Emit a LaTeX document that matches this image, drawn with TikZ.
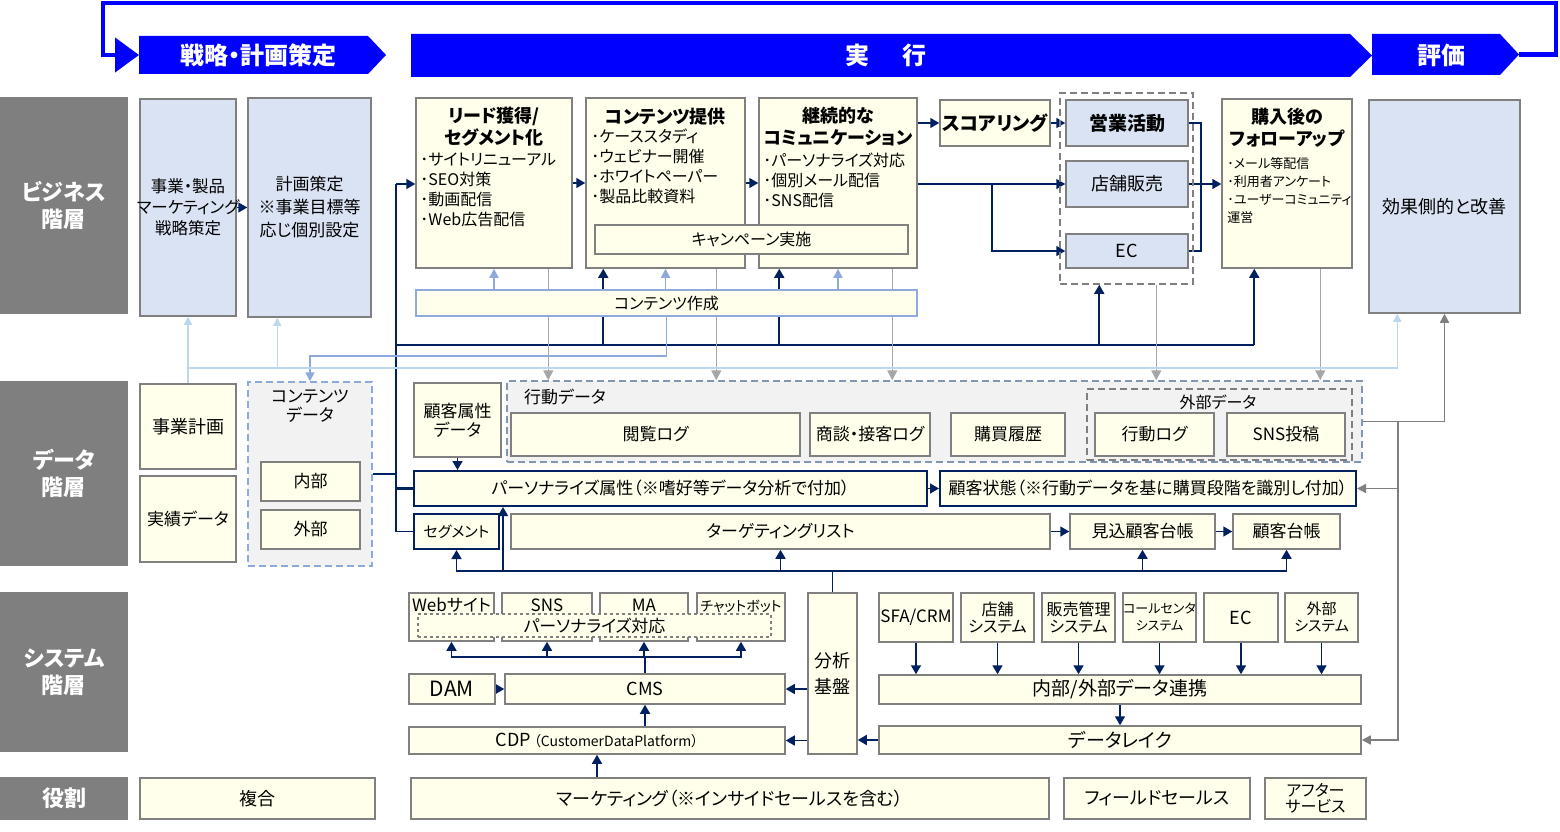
\documentclass[tikz,border=0pt]{standalone}
\usepackage{fontspec}
\setmainfont{Noto Sans CJK JP}[RawFeature=+palt]
\usetikzlibrary{arrows.meta,calc}
\pgfdeclarelayer{bg}
\pgfsetlayers{bg,main}

\definecolor{navy}{HTML}{002060}
\definecolor{bannerblue}{HTML}{0000FF}
\definecolor{laygray}{HTML}{7F7F7F}
\definecolor{boxgray}{HTML}{808080}
\definecolor{boxyellow}{HTML}{FFFFEB}
\definecolor{boxblue}{HTML}{DAE3F3}
\definecolor{grpfill}{HTML}{F2F2F2}
\definecolor{midblue}{HTML}{8EA9DB}
\definecolor{lineblue}{HTML}{BDD7EE}
\definecolor{bhvblue}{HTML}{8497B0}
\definecolor{arrgray}{HTML}{A6A6A6}
\definecolor{dkgray}{HTML}{7F7F7F}

\tikzset{
  basebox/.style={draw=boxgray, line width=1.5pt, inner sep=0pt, align=center, font=\fontsize{17}{20}\selectfont},
  ybox/.style={basebox, fill=boxyellow},
  bbox/.style={basebox, fill=boxblue},
  nbox/.style={ybox, draw=navy, line width=2pt},
  toptxt/.style={text height=12pt, text depth=24pt},
  layer/.style={fill=laygray, inner sep=0pt, align=center, text=white, font=\bfseries\fontsize{22}{27}\selectfont},
  grp/.style={dash pattern=on 7pt off 4pt, fill=grpfill, line width=1.5pt, inner sep=0pt},
  hd/.style={inner sep=0pt, align=center, font=\bfseries\fontsize{18}{22}\selectfont},
  ls/.style={inner sep=0pt, align=left, font=\fontsize{16}{20}\selectfont},
  bantxt/.style={text=white, font=\bfseries\fontsize{24}{28}\selectfont, inner sep=0pt},
  nav/.style={draw=navy, line width=1.6pt},
  navar/.style={nav, -{Triangle[width=10pt,length=9pt]}},
  navbus/.style={draw=navy, line width=2.8pt},
  grar/.style={draw=arrgray, line width=1.5pt, -{Triangle[width=10pt,length=10pt]}},
  dgar/.style={draw=dkgray, line width=1.5pt, -{Triangle[width=9pt,length=9pt]}},
  lbar/.style={draw=lineblue, line width=1.5pt, -{Triangle[width=8pt,length=8pt]}},
  mbar/.style={draw=midblue, line width=1.5pt, -{Triangle[width=9pt,length=9pt]}},
}

\begin{document}
\begin{tikzpicture}[x=1pt,y=-1pt]
\useasboundingbox (0,0) rectangle (1560,832);

% phases
\fill[bannerblue] (139,36) -- (368,36) -- (386,55) -- (368,74) -- (139,74) -- cycle;
\node[bantxt] (pstrat) at (258,55) {戦略・計画策定};
\fill[bannerblue] (411,34) -- (1350,34) -- (1372,55.5) -- (1350,77) -- (411,77) -- cycle;
\node[bantxt] (pexec) at (886,55) {実\hspace{1.4em}行};
\fill[bannerblue] (1372,34) -- (1500,34) -- (1519,54.5) -- (1500,75) -- (1372,75) -- cycle;
\node[bantxt] (peval) at (1441,55) {評価};
\coordinate (evaltip) at (1519,54.5);
\coordinate (stratin) at (139,55);
\draw[draw=bannerblue, line width=4.5pt, -{Triangle[width=34pt,length=24pt]}] (evaltip) -| (1556,3) -| (103,55) -- (stratin);

% layers
\node[layer, minimum width=128pt, minimum height=217pt] (lbiz) at (64,205.5) {ビジネス\\階層};
\node[layer, minimum width=128pt, minimum height=185pt] (ldata) at (64,473.5) {データ\\階層};
\node[layer, minimum width=128pt, minimum height=160pt] (lsys) at (64,672) {システム\\階層};
\node[layer, minimum width=128pt, minimum height=43pt] (lrole) at (64,798.5) {役割};

% business layer
\node[bbox, minimum width=96pt, minimum height=217pt] (bstrat) at (188,207.5) {};
\node[inner sep=0pt, align=center, font=\fontsize{16.5}{21}\selectfont] (bstrattxt) at (bstrat.center) {事業・製品\\マーケティング\\戦略策定};
\node[bbox, minimum width=123pt, minimum height=219pt, font=\fontsize{17}{23}\selectfont] (bplan) at (309.5,207.5) {計画策定\\※事業目標等\\応じ個別設定};

\node[ybox, minimum width=156pt, minimum height=170pt] (lead) at (494,183) {};
\node[hd, anchor=north] (leadhd) at ($(lead.north)+(0,10)$) {リード獲得/\\セグメント化};
\node[ls, anchor=north west] (leadls) at ($(lead.north west)+(5,56)$) {･サイトリニューアル\\･SEO対策\\･動画配信\\･Web広告配信};

\node[ybox, minimum width=159pt, minimum height=170pt] (cprov) at (665.5,183) {};
\node[hd, anchor=north] (cprovhd) at ($(cprov.north)+(0,11)$) {コンテンツ提供};
\node[ls, anchor=north west] (cprovls) at ($(cprov.north west)+(6,31)$) {･ケーススタディ\\･ウェビナー開催\\･ホワイトペーパー\\･製品比較資料};

\node[ybox, minimum width=158pt, minimum height=170pt] (ccomm) at (838,183) {};
\node[hd, anchor=north] (ccommhd) at ($(ccomm.north)+(0,10)$) {継続的な\\コミュニケーション};
\node[ls, anchor=north west] (ccommls) at ($(ccomm.north west)+(5,55)$) {･パーソナライズ対応\\･個別メール配信\\･SNS配信};

\node[ybox, minimum width=313pt, minimum height=29pt, font=\fontsize{16}{18}\selectfont] (campaign) at (751.5,239.5) {キャンペーン実施};

\node[ybox, minimum width=110pt, minimum height=46pt, font=\bfseries\fontsize{19}{22}\selectfont] (scoring) at (995,123) {スコアリング};
\node[grp, draw=dkgray, fill=none, minimum width=133pt, minimum height=191pt] (salesgrp) at (1126.5,188.5) {};
\node[bbox, minimum width=122pt, minimum height=46pt, font=\bfseries\fontsize{19}{22}\selectfont] (sales) at (1127,123) {営業活動};
\node[bbox, minimum width=122pt, minimum height=46pt, font=\fontsize{18}{20}\selectfont] (store) at (1127,184) {店舗販売};
\node[bbox, minimum width=122pt, minimum height=34pt, font=\fontsize{18}{20}\selectfont] (ec) at (1127,251) {EC};

\node[ybox, minimum width=130pt, minimum height=169pt] (follow) at (1287,183.5) {};
\node[hd, anchor=north] (followhd) at ($(follow.north)+(0,10)$) {購入後の\\フォローアップ};
\node[ls, anchor=north west, font=\fontsize{13}{18}\selectfont] (followls) at ($(follow.north west)+(6,59)$) {･メール等配信\\･利用者アンケート\\･ユーザーコミュニティ\\運営};

\node[bbox, minimum width=151pt, minimum height=213pt, font=\fontsize{18}{20}\selectfont] (effect) at (1444.5,206.5) {効果側的と改善};

\node[ybox, draw=midblue, minimum width=501pt, minimum height=26pt, font=\fontsize{16}{18}\selectfont] (ccreate) at (666.5,303) {コンテンツ作成};

% data layer
\node[ybox, minimum width=96pt, minimum height=85pt, font=\fontsize{18}{20}\selectfont] (dplan) at (188,426.5) {事業計画};
\node[ybox, minimum width=96pt, minimum height=86pt] (dperf) at (188,519) {実績データ};
\node[grp, draw=midblue, minimum width=124pt, minimum height=184pt] (cdata) at (310,474) {};
\node[ls, align=center, font=\fontsize{17}{19}\selectfont] (cdatalbl) at (310,406) {コンテンツ\\データ};
\node[ybox, minimum width=99pt, minimum height=39pt] (cin) at (310.5,481.5) {内部};
\node[ybox, minimum width=99pt, minimum height=39pt] (cout) at (310.5,529.5) {外部};
\node[ybox, minimum width=87pt, minimum height=74pt, font=\fontsize{17}{19}\selectfont] (cattr) at (457.5,420) {顧客属性\\データ};
\node[grp, draw=bhvblue, minimum width=855pt, minimum height=81pt] (bhv) at (934.5,421.5) {};
\node[ls, anchor=west, font=\fontsize{17}{20}\selectfont] (bhvlbl) at (524,397) {行動データ};
\node[ybox, minimum width=289pt, minimum height=43pt] (browse) at (655.5,434.5) {閲覧ログ};
\node[ybox, minimum width=120pt, minimum height=43pt] (nego) at (870,434.5) {商談・接客ログ};
\node[ybox, minimum width=114pt, minimum height=43pt] (purch) at (1008,434.5) {購買履歴};
\node[grp, draw=dkgray, minimum width=265pt, minimum height=71pt] (ext) at (1219.5,424.5) {};
\node[ls, font=\fontsize{16}{18}\selectfont] (extlbl) at (1218,402) {外部データ};
\node[ybox, minimum width=119pt, minimum height=43pt] (actlog) at (1154.5,434.5) {行動ログ};
\node[ybox, minimum width=118pt, minimum height=43pt] (snspost) at (1286,434.5) {SNS投稿};
\node[nbox, minimum width=513pt, minimum height=35pt] (pers) at (670.5,488.5) {パーソナライズ属性（※嗜好等データ分析で付加）};
\node[nbox, minimum width=416pt, minimum height=35pt] (cstate) at (1148,488.5) {顧客状態（※行動データを基に購買段階を識別し付加）};
\node[nbox, minimum width=85pt, minimum height=35pt, font=\fontsize{15}{18}\selectfont] (seg) at (456.5,531.5) {セグメント};
\node[ybox, minimum width=539pt, minimum height=35pt] (tlist) at (780.5,531.5) {ターゲティングリスト};
\node[ybox, minimum width=145pt, minimum height=35pt] (prosp) at (1142.5,531.5) {見込顧客台帳};
\node[ybox, minimum width=107pt, minimum height=35pt] (cust) at (1286.5,531.5) {顧客台帳};

% system layer
\node[ybox, toptxt, minimum width=85pt, minimum height=48pt] (web) at (451.5,617) {Webサイト};
\node[ybox, toptxt, minimum width=90pt, minimum height=48pt] (sns) at (547,617) {SNS};
\node[ybox, toptxt, minimum width=88pt, minimum height=48pt] (ma) at (644,617) {MA};
\node[ybox, toptxt, minimum width=88pt, minimum height=48pt, font=\fontsize{14}{17}\selectfont] (chat) at (741,617) {チャットボット};
\node[ybox, dashed, minimum width=353pt, minimum height=23pt] (persup) at (594.5,625.5) {パーソナライズ対応};
\node[ybox, minimum width=86pt, minimum height=30pt, font=\fontsize{21}{24}\selectfont] (dam) at (452,689) {DAM};
\node[ybox, minimum width=280pt, minimum height=30pt, font=\fontsize{18}{20}\selectfont] (cms) at (645,689) {CMS};
\node[ybox, minimum width=376pt, minimum height=27pt, font=\fontsize{18}{20}\selectfont] (cdp) at (597,740.5) {CDP\hspace{3pt}{\fontsize{14}{16}\selectfont（CustomerDataPlatform）}};
\node[ybox, minimum width=49pt, minimum height=161pt, font=\fontsize{18}{26}\selectfont] (analy) at (832.5,673.5) {分析\\基盤};
\node[ybox, minimum width=74pt, minimum height=49pt] (sfa) at (916,617.5) {SFA/CRM};
\node[ybox, minimum width=73pt, minimum height=49pt, font=\fontsize{16}{17}\selectfont] (storesys) at (997.5,617.5) {店舗\\システム};
\node[ybox, minimum width=73pt, minimum height=49pt, font=\fontsize{16}{17}\selectfont] (salesys) at (1078.5,617.5) {販売管理\\システム};
\node[ybox, minimum width=73pt, minimum height=49pt, font=\fontsize{13}{17}\selectfont] (callc) at (1159.5,617.5) {コールセンタ\\システム};
\node[ybox, minimum width=74pt, minimum height=49pt, font=\fontsize{18}{20}\selectfont] (ecsys) at (1241,617.5) {EC};
\node[ybox, minimum width=73pt, minimum height=49pt, font=\fontsize{15}{17}\selectfont] (extsys) at (1321.5,617.5) {外部\\システム};
\node[ybox, minimum width=482pt, minimum height=29pt, font=\fontsize{19}{20}\selectfont] (link) at (1120,689.5) {内部/外部データ連携};
\node[ybox, minimum width=482pt, minimum height=28pt, font=\fontsize{19}{20}\selectfont] (lake) at (1120,740) {データレイク};

% roles
\node[ybox, minimum width=235pt, minimum height=41pt, font=\fontsize{18}{20}\selectfont] (rmix) at (257.5,798.5) {複合};
\node[ybox, minimum width=638pt, minimum height=41pt, font=\fontsize{18}{20}\selectfont] (rmkt) at (730,798.5) {マーケティング（※インサイドセールスを含む）};
\node[ybox, minimum width=186pt, minimum height=41pt, font=\fontsize{18}{20}\selectfont] (rfield) at (1157,798.5) {フィールドセールス};
\node[ybox, minimum width=101pt, minimum height=41pt, font=\fontsize{16}{16}\selectfont] (rafter) at (1315.5,798.5) {アフター\\サービス};

\begin{pgfonlayer}{bg}
% business flow
\draw[navar] (bstrat.east) -- (bstrat.east -| bplan.west);
\draw[navar] (lead.east) -- (cprov.west);
\draw[navar] (cprov.east) -- (ccomm.west);
\draw[navar] (scoring.west -| ccomm.east) -- (scoring.west);
\draw[navar] (scoring.east) -- (sales.west);
\draw[navar] (store.west -| ccomm.east) -- (store.west);
\coordinate (ecfork) at (992,184);
\draw[navar] (ecfork) |- (ec.west);
\draw[nav] (sales.east) -- ++(12,0) |- (ec.east);
\draw[navar] (store.east) -- (store.east -| follow.west);

% left bus
\coordinate (lbus) at (396,184);
\draw[navbus] (pers.west) -| (lbus);
\draw[navar] (lbus) -- (lbus -| lead.west);
\draw[nav] (seg.west) -| (lbus |- pers.west);
\draw[nav] (cdata.east) -- (cdata.east -| lbus);
\coordinate (hbus) at (396,345);
\coordinate (cprovin) at ($(cprov.south west)+(18,0)$);
\coordinate (ccommin) at ($(ccomm.south west)+(21,0)$);
\coordinate (grpin) at ($(salesgrp.south west)+(40,0)$);
\coordinate (followin) at ($(follow.south west)+(33,0)$);
\draw[navbus] (hbus) -- (hbus -| followin);
\foreach \p in {cprovin,ccommin,grpin,followin}
  \draw[navar] (hbus -| \p) -- (\p);

% content creation
\foreach \p in {lead,cprov,ccomm}
  \draw[mbar] (ccreate.north -| \p.south) -- (\p.south);
\draw[mbar] (ccreate.south) -- ++(0,39) -| (cdata.north);

% into behaviour data
\coordinate (leadout) at ($(lead.south west)+(133,0)$);
\coordinate (cprovout) at ($(cprov.south west)+(131,0)$);
\coordinate (ccommout) at ($(ccomm.south west)+(134,0)$);
\coordinate (grpout) at ($(salesgrp.south west)+(97,0)$);
\coordinate (followout) at ($(follow.south west)+(99,0)$);
\foreach \p in {leadout,cprovout,ccommout,grpout,followout}
  \draw[grar] (\p) -- (\p |- bhv.north);

% plan data
\coordinate (lbfork) at (188,368);
\coordinate (bplanin) at ($(bplan.south west)+(30,0)$);
\coordinate (effin) at ($(effect.south west)+(29,0)$);
\draw[lbar] (dplan.north) -- (bstrat.south);
\draw[lbar] (lbfork) -| (effin);
\draw[lbar] (bplanin |- lbfork) -- (bplanin);

% evaluation feedback
\draw[dgar] (bhv.east) -| (effect.south);
\coordinate (gfork) at (1398,421.5);
\draw[dgar] (gfork) |- (lake.east);
\draw[dgar] (gfork |- cstate.east) -- (cstate.east);

% data layer
\draw[navar] (cattr.south) -- (cattr.south |- pers.north);
\draw[navar] (pers.east) -- (cstate.west);
\draw[navar] (tlist.east) -- (prosp.west);
\draw[navar] (prosp.east) -- (cust.west);
\coordinate (dbus) at (832.5,571);
\coordinate (persin) at ($(pers.south west)+(90,0)$);
\draw[nav] (analy.north) -- (dbus);
\foreach \p in {seg.south,tlist.south,prosp.south,cust.south,persin}
  \draw[navar] (dbus) -| (\p);

% system layer
\coordinate (sbus) at (645,657);
\draw[draw=navy, line width=2.5pt] (cms.north) -- (cms.north |- sbus);
\foreach \p in {web,sns,ma,chat}
  \draw[navar] (cms.north |- sbus) -| (\p.south);
\draw[navar] (dam.east) -- (cms.west);
\draw[navar] (cms.south |- cdp.north) -- (cms.south);
\draw[navar] (analy.west |- cms.east) -- (cms.east);
\draw[navar] (analy.west |- cdp.east) -- (cdp.east);
\draw[navar] (lake.west) -- (lake.west -| analy.east);
\foreach \p in {sfa,storesys,salesys,callc,ecsys,extsys}
  \draw[navar] (\p.south) -- (\p.south |- link.north);
\draw[navar] (link.south) -- (lake.north);
\draw[navar] (rmkt.north -| cdp.south) -- (cdp.south);
\end{pgfonlayer}
\end{tikzpicture}
\end{document}
